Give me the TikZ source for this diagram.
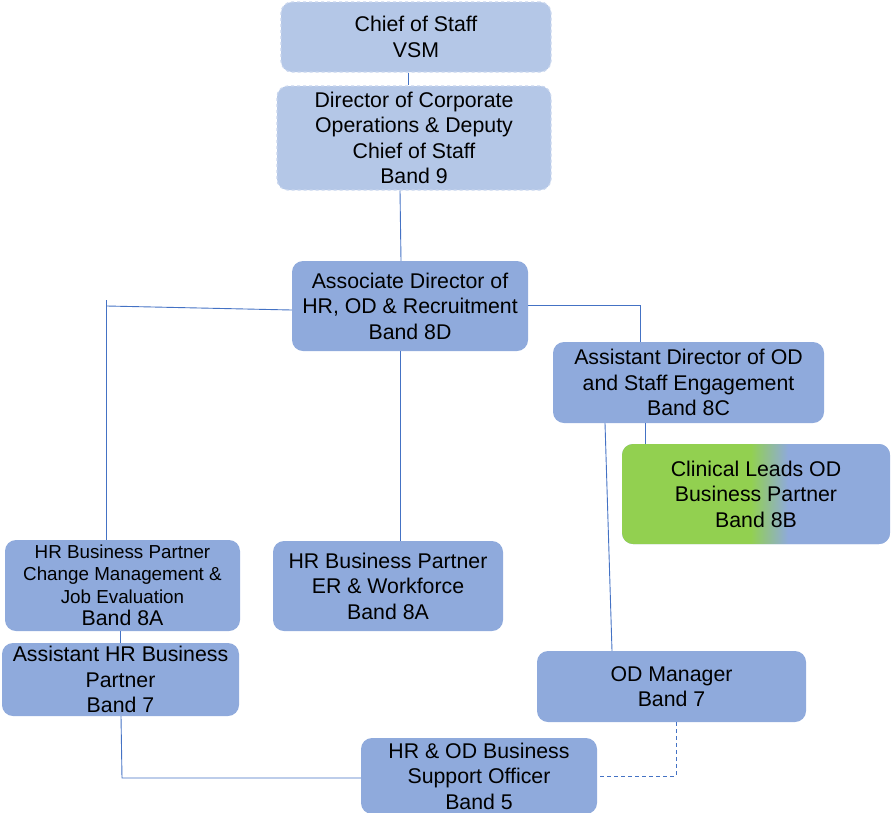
\documentclass[tikz,border=0pt]{standalone}
\usepackage{fontspec}
\setmainfont{Liberation Sans}
\definecolor{boxblue}{HTML}{8FAADC}
\definecolor{lightblue}{HTML}{B4C7E7}
\definecolor{lightedge}{HTML}{C9D6EE}
\definecolor{linkblue}{HTML}{4472C4}
\definecolor{leafgreen}{HTML}{92D050}
\pgfdeclarehorizontalshading{greenblue}{100bp}{color(0bp)=(leafgreen); color(49bp)=(leafgreen); color(56bp)=(boxblue); color(100bp)=(boxblue)}
\tikzset{
  orgbox/.style={rectangle, rounded corners=11pt, fill=boxblue, inner sep=0pt, align=center,
    font=\fontsize{21.3}{25.5}\selectfont, text=black},
  topbox/.style={orgbox, fill=lightblue, draw=lightedge, dashed, line width=1.2pt},
  link/.style={draw=linkblue, line width=0.9pt},
}
\begin{document}
\begin{tikzpicture}[x=1pt,y=-1pt]
\useasboundingbox (0,0) rectangle (891,812);
\node[topbox, minimum width=270pt, minimum height=70pt] (chief) at (416,37) {Chief of Staff\\VSM};
\node[topbox, minimum width=274pt, minimum height=104pt] (dir) at (414,138) {Director of Corporate\\Operations \& Deputy\\Chief of Staff\\Band 9};
\node[orgbox, minimum width=236pt, minimum height=90pt] (assoc) at (410,306) {Associate Director of\\HR, OD \& Recruitment\\Band 8D};
\node[orgbox, minimum width=271pt, minimum height=81pt] (asd) at (688.5,382.5) {Assistant Director of OD\\and Staff Engagement\\Band 8C};
\node[orgbox, shading=greenblue, minimum width=268pt, minimum height=100pt] (clin) at (756,494) {Clinical Leads OD\\Business Partner\\Band 8B};
\node[orgbox, minimum width=235pt, minimum height=91pt, font=\fontsize{18.8}{22.5}\selectfont] (hrbpc) at (122.5,585.5) {HR Business Partner\\Change Management \&\\Job Evaluation\\{\fontsize{21.3}{23}\selectfont Band 8A}};
\node[orgbox, minimum width=230pt, minimum height=90pt] (hrber) at (388,586) {HR Business Partner\\ER \& Workforce\\Band 8A};
\node[orgbox, minimum width=237pt, minimum height=73pt] (asst) at (120.5,679.5) {Assistant HR Business\\Partner\\Band 7};
\node[orgbox, minimum width=269pt, minimum height=71pt] (odm) at (671.5,686.5) {OD Manager\\Band 7};
\node[orgbox, minimum width=236pt, minimum height=76pt] (sup) at (479,776) {HR \& OD Business\\Support Officer\\Band 5};

\coordinate (lefttop) at (106,300);
\coordinate (leftjoin) at (107,306);
\coordinate (botjoin) at (122,778);

\draw[link] ([xshift=-8pt]chief.south) -- ([xshift=-6pt]dir.north);
\draw[link] ([xshift=-14pt]dir.south) -- ([xshift=-9pt]assoc.north);
\draw[link] ([yshift=-4pt]assoc.west) -- (leftjoin);
\draw[link] (lefttop) -- ([xshift=-16.5pt]hrbpc.north);
\draw[link] ([yshift=1pt]assoc.east) -| ([xshift=-48.5pt]asd.north);
\draw[link] ([xshift=-10pt]assoc.south) -- ([xshift=12pt]hrber.north);
\draw[link] ([xshift=-43.5pt]asd.south) -- ([xshift=-111pt]clin.north);
\draw[link] ([xshift=-83.5pt]asd.south) -- ([xshift=-59.5pt]odm.north);
\draw[link] ([xshift=-2.5pt]hrbpc.south) -- ([xshift=-0.5pt]asst.north);
\draw[link] ([xshift=0.5pt]asst.south) -- (botjoin) -- (botjoin -| sup.west);
\draw[link, dash pattern=on 4pt off 3pt] ([xshift=4.5pt]odm.south) |- (sup.east);
\end{tikzpicture}
\end{document}
